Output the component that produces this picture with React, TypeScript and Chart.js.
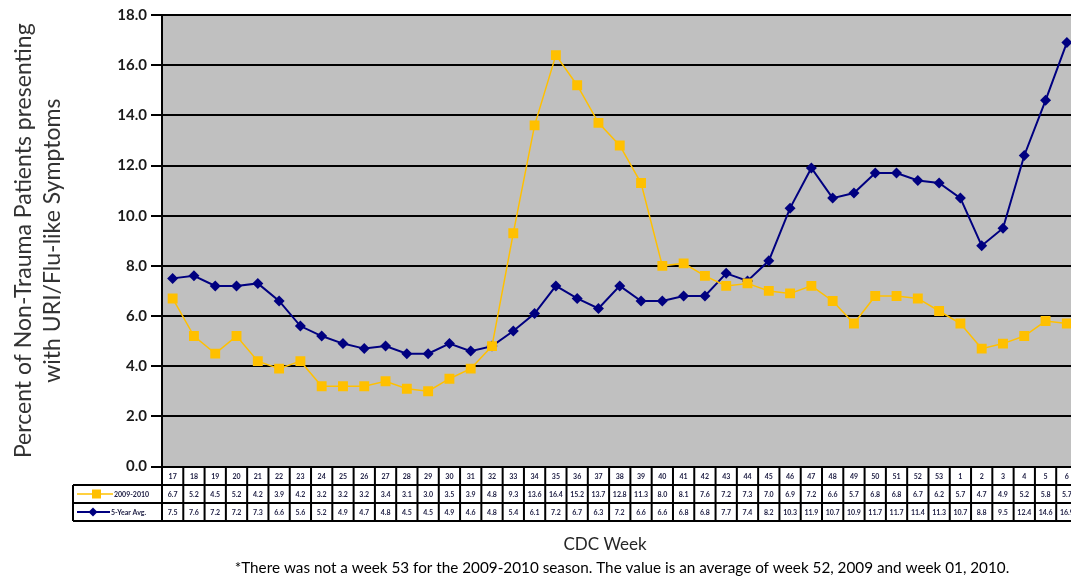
import React, { useEffect, useRef } from "react";
import { Chart, registerables } from "chart.js";

Chart.register(...registerables);

const weeks = ["17","18","19","20","21","22","23","24","25","26","27","28","29","30","31","32","33","34","35","36","37","38","39","40","41","42","43","44","45","46","47","48","49","50","51","52","53","1","2","3","4","5","6"];
const season20092010 = [6.7,5.2,4.5,5.2,4.2,3.9,4.2,3.2,3.2,3.2,3.4,3.1,3.0,3.5,3.9,4.8,9.3,13.6,16.4,15.2,13.7,12.8,11.3,8.0,8.1,7.6,7.2,7.3,7.0,6.9,7.2,6.6,5.7,6.8,6.8,6.7,6.2,5.7,4.7,4.9,5.2,5.8,5.7];
const fiveYearAvg = [7.5,7.6,7.2,7.2,7.3,6.6,5.6,5.2,4.9,4.7,4.8,4.5,4.5,4.9,4.6,4.8,5.4,6.1,7.2,6.7,6.3,7.2,6.6,6.6,6.8,6.8,7.7,7.4,8.2,10.3,11.9,10.7,10.9,11.7,11.7,11.4,11.3,10.7,8.8,9.5,12.4,14.6,16.9];
const seriesNames = ["2009-2010", "5-Year Avg."];
const yTitleLines = ["Percent of Non-Trauma Patients presenting", "with URI/Flu-like Symptoms"];
const xTitle = "CDC Week";
const footnote = "*There was not a week 53 for the 2009-2010 season. The value is an average of week 52, 2009 and week 01, 2010.";

const YELLOW = "#FFC000";
const NAVY = "#000080";

function fitFont(ctx: CanvasRenderingContext2D, text: string, family: string, weight: string, target: number) {
  ctx.font = `${weight} 20px ${family}`;
  const w = ctx.measureText(text).width;
  return (20 * target) / w;
}

const overlay = {
  id: "overlay",
  beforeDraw(chart: any) {
    const { ctx, chartArea: a } = chart;
    ctx.save();
    ctx.fillStyle = "#c0c0c0";
    ctx.fillRect(a.left, a.top, a.right - a.left, a.bottom - a.top);
    ctx.restore();
  },
  afterDraw(chart: any) {
    const { ctx, chartArea: a } = chart;
    const xs = chart.scales.x;
    const n = weeks.length;
    const step = xs.getPixelForValue(1) - xs.getPixelForValue(0);
    const half = step / 2;
    const yTop = a.bottom;
    const r1 = 485, r2 = 503, r3 = 521;
    const legLeft = 73;
    const colLeft = xs.getPixelForValue(0) - half;
    const colRight = xs.getPixelForValue(n - 1) + half;
    ctx.save();
    ctx.strokeStyle = "#000";
    ctx.lineWidth = 2;
    ctx.beginPath();
    ctx.moveTo(legLeft, r1); ctx.lineTo(colRight, r1);
    ctx.moveTo(legLeft, r2); ctx.lineTo(colRight, r2);
    ctx.moveTo(legLeft, r3); ctx.lineTo(colRight, r3);
    ctx.moveTo(legLeft, r1); ctx.lineTo(legLeft, r3);
    for (let i = 0; i <= n; i++) {
      const x = colLeft + i * step;
      ctx.moveTo(x, yTop); ctx.lineTo(x, r3);
    }
    ctx.stroke();

    ctx.fillStyle = "#1a1a40";
    ctx.textAlign = "center";
    ctx.textBaseline = "middle";
    ctx.font = "bold 7px Lato";
    for (let i = 0; i < n; i++) {
      const x = xs.getPixelForValue(i);
      ctx.fillText(weeks[i], x, (yTop + r1) / 2 + 1);
      ctx.fillText(season20092010[i].toFixed(1), x, (r1 + r2) / 2 + 1);
      ctx.fillText(fiveYearAvg[i].toFixed(1), x, (r2 + r3) / 2 + 1);
    }

    const ly1 = (r1 + r2) / 2;
    const ly2 = (r2 + r3) / 2;
    ctx.lineWidth = 1.5;
    ctx.strokeStyle = YELLOW;
    ctx.beginPath(); ctx.moveTo(77, ly1); ctx.lineTo(113, ly1); ctx.stroke();
    ctx.fillStyle = YELLOW;
    ctx.fillRect(92, ly1 - 4.5, 9, 9);
    ctx.strokeStyle = NAVY;
    ctx.lineWidth = 2;
    ctx.beginPath(); ctx.moveTo(77, ly2); ctx.lineTo(110, ly2); ctx.stroke();
    ctx.fillStyle = NAVY;
    ctx.beginPath();
    ctx.moveTo(93, ly2 - 4.5); ctx.lineTo(97.5, ly2); ctx.lineTo(93, ly2 + 4.5); ctx.lineTo(88.5, ly2);
    ctx.closePath(); ctx.fill();
    ctx.fillStyle = "#1a1a40";
    ctx.textAlign = "left";
    ctx.font = "bold 7px Lato";
    ctx.fillText(seriesNames[0], 114, ly1 + 1);
    ctx.fillText(seriesNames[1], 111, ly2 + 1);

    ctx.fillStyle = "#262626";
    ctx.textAlign = "center";
    ctx.textBaseline = "middle";
    ctx.font = "17px Lato";
    ctx.fillText(xTitle, 605, 545);

    const fs = fitFont(ctx, footnote, "Lato", "normal", 775);
    ctx.font = `${fs}px Lato`;
    ctx.fillStyle = "#000";
    ctx.fillText(footnote, 622, 568);

    const ys = fitFont(ctx, yTitleLines[0], "Lato", "normal", 435);
    ctx.font = `${ys}px Lato`;
    ctx.fillStyle = "#333";
    const cy = (a.top + a.bottom) / 2;
    ctx.translate(24, cy);
    ctx.rotate(-Math.PI / 2);
    ctx.fillText(yTitleLines[0], 0, 0);
    ctx.fillText(yTitleLines[1], 0, 29);
    ctx.restore();
  },
};

export default function App() {
  const ref = useRef<HTMLCanvasElement | null>(null);
  useEffect(() => {
    if (!ref.current) return;
    const chart = new Chart(ref.current, {
      type: "line",
      data: {
        labels: weeks,
        datasets: [
          {
            label: seriesNames[0],
            data: season20092010,
            borderColor: YELLOW,
            backgroundColor: YELLOW,
            borderWidth: 1.5,
            pointStyle: "rect",
            pointRadius: 7,
            pointBorderWidth: 0,
            tension: 0,
          },
          {
            label: seriesNames[1],
            data: fiveYearAvg,
            borderColor: NAVY,
            backgroundColor: NAVY,
            borderWidth: 2,
            pointStyle: "rectRot",
            pointRadius: 5.5,
            pointBorderWidth: 0,
            tension: 0,
          },
        ],
      },
      options: {
        responsive: false,
        animation: false,
        devicePixelRatio: 1,
        layout: { padding: { left: 8, right: 7.5, top: 15, bottom: 113.5 } },
        plugins: { legend: { display: false }, tooltip: { enabled: false } },
        scales: {
          x: { type: "category", offset: true, display: false },
          y: {
            min: 0,
            max: 18,
            ticks: {
              stepSize: 2,
              padding: 4,
              color: "#1a1a1a",
              font: { family: "Lato", weight: "bold", size: 15 },
              callback: (v: any) => Number(v).toFixed(1),
            },
            grid: { color: "#000", lineWidth: 2, tickLength: 11, drawTicks: true },
            border: { display: true, color: "#000", width: 2 },
            afterFit: (scale: any) => { scale.width = 154; },
          },
        },
      },
      plugins: [overlay],
    });
    return () => chart.destroy();
  }, []);
  return (
    <div style={{ position: "fixed", left: 0, top: 0, width: 1071, height: 580, overflow: "hidden", background: "#fff" }}>
      <canvas ref={ref} width={1085} height={580} style={{ display: "block", width: 1085, height: 580 }} />
    </div>
  );
}
